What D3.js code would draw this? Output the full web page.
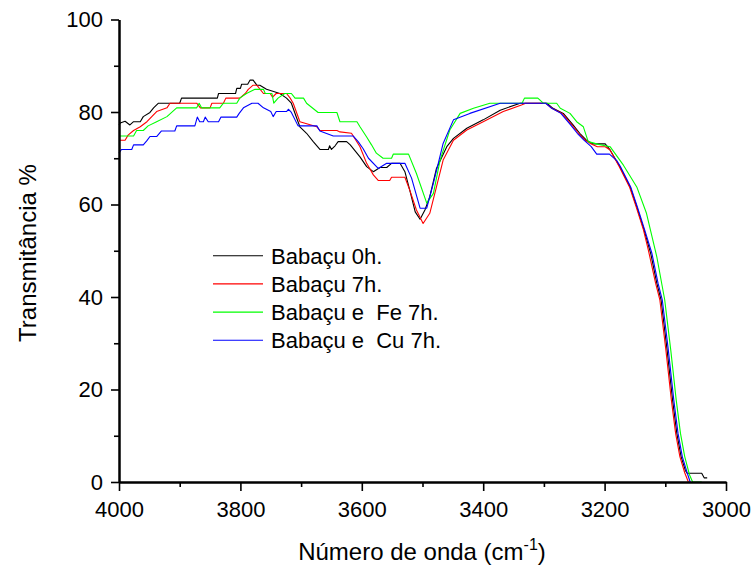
<!DOCTYPE html>
<html>
<head>
<meta charset="utf-8">
<script src="https://cdn.jsdelivr.net/npm/d3@7"></script>
<style>
    html, body { margin: 0; padding: 0; background: #fff; }
    svg { display: block; font-family: Arial, "Liberation Sans", sans-serif; }
</style>
</head>
<body>
<div id="chart"></div>
<script>
// ── 数据 ────────────────────────────────────────────────────────────────────
// [número de onda (cm-1), transmitância %]
const babacu0h = [
    [4000,77.2],[3998,77.6],[3990,78.0],[3982,77.2],[3976,77.9],[3965,77.9],[3960,79.0],[3949,79.9],
    [3943,80.9],[3935,81.9],[3900,81.9],[3897,83.0],[3838,83.0],[3836,84.0],[3808,84.0],[3806,85.1],
    [3800,85.1],[3798,86.0],[3788,86.0],[3784,86.9],[3779,86.9],[3773,85.8],[3768,85.8],[3757,84.9],
    [3735,84.0],[3724,83.0],[3716,81.9],[3707,78.6],[3702,76.8],[3691,75.4],[3680,73.6],[3669,71.9],
    [3655,71.9],[3653,72.7],[3650,71.9],[3644,72.7],[3639,73.6],[3625,73.6],[3619,72.9],[3603,70.3],
    [3592,68.2],[3581,67.1],[3570,68.0],[3559,68.0],[3551,68.9],[3537,68.9],[3529,67.1],[3521,63.1],
    [3512,58.4],[3504,56.8],[3496,58.8],[3488,61.7],[3477,67.8],[3460,72.5],[3449,74.3],[3427,76.5],
    [3400,78.3],[3372,80.4],[3339,81.9],[3295,81.9],[3285,80.8],[3268,79.7],[3252,77.2],[3241,75.4],
    [3230,73.9],[3219,73.1],[3199,73.1],[3191,71.8],[3175,68.2],[3158,63.8],[3147,59.5],[3135,54.5],
    [3124,49.4],[3114,43.0],[3107,39.4],[3097,28.5],[3088,17.7],[3081,10.5],[3074,5.5],[3067,2.5],
    [3064,1.9],[3040,1.9],[3036,0.9],[3031,0.9]
];
const babacu7h = [
    [4000,73.9],[3990,73.9],[3985,75.0],[3976,76.0],[3965,76.8],[3954,77.9],[3946,79.0],[3938,80.1],
    [3921,80.9],[3916,81.9],[3872,81.9],[3866,80.9],[3850,80.9],[3847,81.9],[3828,81.9],[3824,83.0],
    [3801,83.0],[3792,84.0],[3787,84.9],[3779,85.8],[3773,85.8],[3762,84.0],[3751,84.0],[3747,83.2],
    [3741,84.0],[3724,84.0],[3718,83.0],[3713,81.9],[3702,77.9],[3674,76.8],[3669,76.0],[3641,76.0],
    [3636,75.7],[3617,75.4],[3603,72.5],[3592,68.9],[3581,66.4],[3573,65.2],[3554,65.2],[3551,65.9],
    [3529,65.9],[3521,63.1],[3510,58.8],[3499,55.9],[3488,58.1],[3477,63.8],[3466,69.6],[3449,73.9],
    [3427,76.1],[3400,77.9],[3367,80.1],[3337,81.5],[3330,81.9],[3297,81.9],[3287,80.8],[3270,79.7],
    [3254,77.2],[3243,75.4],[3232,73.9],[3222,73.1],[3212,72.5],[3199,72.5],[3191,71.8],[3176,68.2],
    [3159,63.8],[3148,59.5],[3136,54.5],[3128,50.2],[3116,43.0],[3109,39.4],[3099,28.5],[3090,17.7],
    [3083,10.5],[3076,5.5],[3068,2.0],[3062,0]
];
const babacuFe7h = [
    [4000,74.8],[3976,74.8],[3971,76.0],[3960,76.0],[3952,77.0],[3938,77.9],[3921,79.0],[3905,80.9],
    [3872,80.9],[3868,81.9],[3864,80.9],[3834,80.9],[3828,81.9],[3806,81.9],[3801,83.0],[3790,84.0],
    [3776,84.9],[3762,84.9],[3759,84.0],[3748,84.0],[3745,81.9],[3738,83.0],[3727,84.0],[3716,84.0],
    [3710,83.0],[3696,83.0],[3691,81.9],[3672,79.9],[3641,79.9],[3636,77.9],[3608,77.9],[3603,76.8],
    [3592,74.6],[3584,72.9],[3576,71.1],[3565,70.0],[3551,70.0],[3548,70.9],[3523,70.9],[3510,66.7],
    [3493,60.3],[3482,62.4],[3471,69.6],[3455,76.1],[3438,79.7],[3416,80.8],[3389,81.9],[3336,81.9],
    [3332,83.0],[3310,83.0],[3301,81.9],[3279,81.9],[3273,80.8],[3257,79.7],[3246,77.9],[3235,76.8],
    [3227,73.6],[3210,73.0],[3191,72.5],[3169,68.5],[3147,63.8],[3131,58.1],[3114,48.7],[3101,39.4],
    [3091,28.5],[3082,17.7],[3075,10.5],[3068,5.5],[3060,1.5],[3055,0],[3040,0]
];
const babacuCu7h = [
    [4000,71.1],[3996,71.9],[3979,71.9],[3976,72.9],[3960,72.9],[3954,73.8],[3949,74.7],[3938,74.7],
    [3930,75.9],[3908,75.9],[3905,77.0],[3875,77.0],[3871,78.9],[3867,77.9],[3861,77.9],[3858,78.9],
    [3853,77.9],[3836,77.9],[3832,78.9],[3806,78.9],[3802,79.7],[3795,80.9],[3781,81.9],[3771,81.9],
    [3762,80.9],[3750,80.1],[3746,79.0],[3741,80.1],[3724,80.1],[3721,80.6],[3716,79.9],[3705,77.0],
    [3674,77.0],[3669,75.9],[3647,74.8],[3614,74.8],[3606,73.6],[3598,72.1],[3589,70.0],[3573,67.8],
    [3559,68.9],[3529,68.9],[3518,65.7],[3504,59.2],[3493,59.2],[3482,64.6],[3466,73.2],[3449,78.3],
    [3422,79.7],[3372,81.9],[3297,81.9],[3287,80.8],[3272,79.7],[3256,77.2],[3245,75.4],[3234,73.9],
    [3222,72.5],[3213,70.9],[3192,70.9],[3180,69.5],[3174,68.2],[3157,63.8],[3146,59.5],[3134,54.5],
    [3122,49.4],[3112,43.0],[3105,39.4],[3095,28.5],[3086,17.7],[3079,10.5],[3072,5.5],[3064,2.0],
    [3059,0]
];

const seriesNames  = ['Babaçu 0h.', 'Babaçu 7h.', 'Babaçu e\u00a0 Fe 7h.', 'Babaçu e\u00a0 Cu 7h.'];
const seriesData   = [babacu0h, babacu7h, babacuFe7h, babacuCu7h];
const seriesColors = ['#000000', '#ff0000', '#00ff00', '#0000ff'];

const xMajorTicks = [4000, 3800, 3600, 3400, 3200, 3000];
const xMinorTicks = [3900, 3700, 3500, 3300, 3100];
const yMajorTicks = [0, 20, 40, 60, 80, 100];
const yMinorTicks = [10, 30, 50, 70, 90];

(function () {
    'use strict';

    const width = 754, height = 572;

    const svg = d3.select('#chart').append('svg')
        .attr('width', width)
        .attr('height', height);

    // ── 比例尺 ───────────────────────────────────────────────────────────────
    const x = d3.scaleLinear().domain([4000, 3000]).range([119, 726]);
    const y = d3.scaleLinear().domain([0, 100]).range([482, 19.5]);

    // ── 曲线 ─────────────────────────────────────────────────────────────────
    const line = d3.line()
        .x(d => x(d[0]))
        .y(d => y(d[1]));

    svg.append('g').attr('class', 'series')
        .selectAll('path')
        .data(seriesData)
        .enter()
        .append('path')
        .attr('d', line)
        .attr('fill', 'none')
        .attr('stroke', (d, i) => seriesColors[i])
        .attr('stroke-width', 1.1)
        .attr('stroke-linejoin', 'round');

    // ── 坐标轴 ───────────────────────────────────────────────────────────────
    const styleAxis = g => {
        g.select('.domain').attr('stroke', '#000').attr('stroke-width', 2);
        g.selectAll('.tick line').attr('stroke', '#000').attr('stroke-width', 1.6);
        g.selectAll('.tick text')
            .attr('fill', '#000')
            .style('font-size', '22px')
            .style('font-family', 'Arial, "Liberation Sans", sans-serif');
    };

    svg.append('g')
        .attr('transform', `translate(0,${y(0)})`)
        .call(d3.axisBottom(x).tickValues(xMinorTicks).tickSize(5).tickSizeOuter(0).tickFormat(''))
        .call(styleAxis);
    svg.append('g')
        .attr('transform', `translate(0,${y(0)})`)
        .call(d3.axisBottom(x).tickValues(xMajorTicks).tickSize(9).tickSizeOuter(0)
            .tickPadding(10).tickFormat(d3.format('d')))
        .call(styleAxis);

    svg.append('g')
        .attr('transform', `translate(${x(4000)},0)`)
        .call(d3.axisLeft(y).tickValues(yMinorTicks).tickSize(5).tickSizeOuter(0).tickFormat(''))
        .call(styleAxis);
    svg.append('g')
        .attr('transform', `translate(${x(4000)},0)`)
        .call(d3.axisLeft(y).tickValues(yMajorTicks).tickSize(8).tickSizeOuter(0)
            .tickPadding(8).tickFormat(d3.format('d')))
        .call(styleAxis);

    // ── 轴标题 ───────────────────────────────────────────────────────────────
    const xTitle = svg.append('text')
        .attr('x', 422)
        .attr('y', 560)
        .attr('text-anchor', 'middle')
        .style('font-size', '24px')
        .attr('fill', '#000');
    xTitle.append('tspan').text('Número de onda (cm');
    xTitle.append('tspan').text('-1').style('font-size', '16px').attr('dy', -10);
    xTitle.append('tspan').text(')').attr('dy', 10);

    svg.append('text')
        .attr('transform', 'translate(36,253) rotate(-90)')
        .attr('text-anchor', 'middle')
        .style('font-size', '24px')
        .attr('fill', '#000')
        .text('Transmitância %');

    // ── 图例 ─────────────────────────────────────────────────────────────────
    const legend = svg.append('g').attr('class', 'legend')
        .selectAll('g')
        .data(seriesNames)
        .enter()
        .append('g')
        .attr('transform', (d, i) => `translate(213,${255.7 + i * 28.2})`);

    legend.append('line')
        .attr('x1', 0).attr('x2', 50)
        .attr('stroke', (d, i) => seriesColors[i])
        .attr('stroke-width', 1.1);

    legend.append('text')
        .attr('x', 58)
        .attr('dy', '0.36em')
        .style('font-size', '22px')
        .attr('fill', '#000')
        .text(d => d);
})();
</script>
</body>
</html>
